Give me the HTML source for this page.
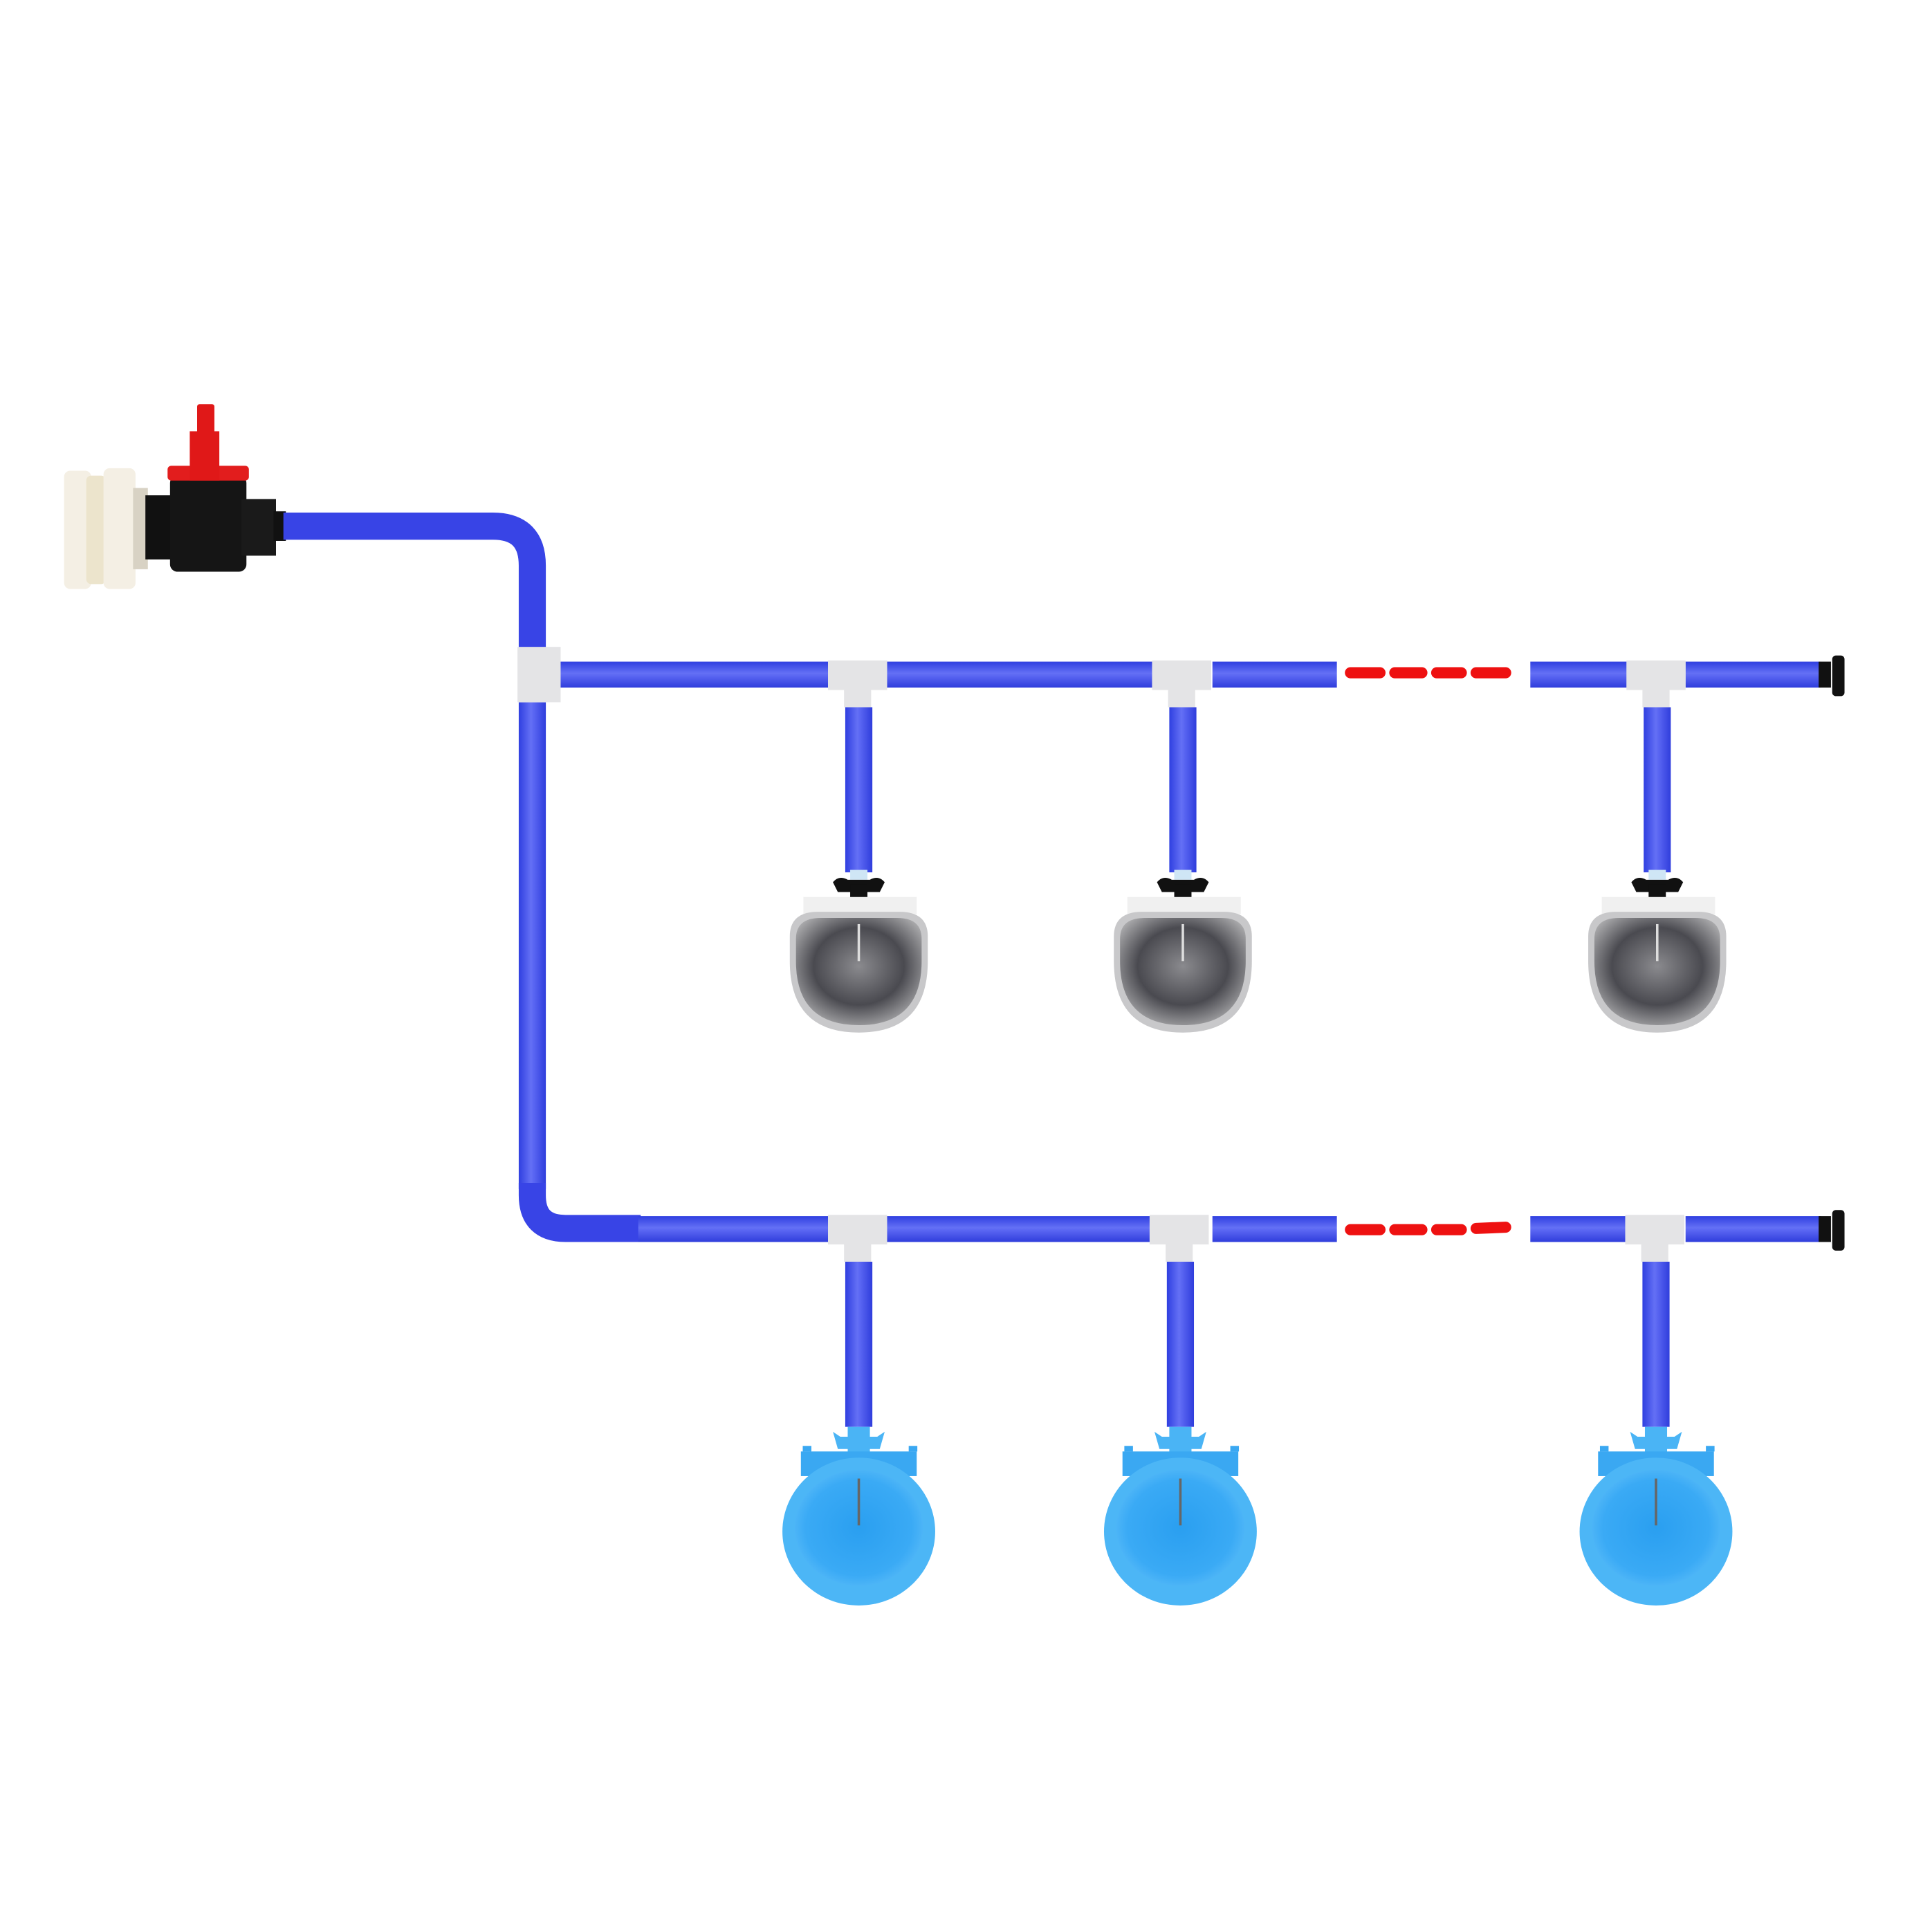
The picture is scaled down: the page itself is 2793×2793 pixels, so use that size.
<!DOCTYPE html>
<html><head><meta charset="utf-8"><style>html,body{margin:0;padding:0;background:#fff}svg{display:block}</style></head>
<body>
<svg width="2793" height="2793" viewBox="0 0 1568 1568" xmlns="http://www.w3.org/2000/svg">
<defs>
<linearGradient id="ph" x1="0" y1="0" x2="0" y2="1">
<stop offset="0" stop-color="#2f3fe0"/><stop offset="0.45" stop-color="#6470f5"/><stop offset="0.55" stop-color="#5a66f2"/><stop offset="1" stop-color="#2f3ddc"/></linearGradient>
<linearGradient id="pv" x1="0" y1="0" x2="1" y2="0">
<stop offset="0" stop-color="#2f3fe0"/><stop offset="0.45" stop-color="#6470f5"/><stop offset="0.55" stop-color="#5a66f2"/><stop offset="1" stop-color="#2f3ddc"/></linearGradient>
<radialGradient id="steel" cx="0.5" cy="0.45" r="0.6">
<stop offset="0" stop-color="#8a8a8e"/><stop offset="0.6" stop-color="#4a4a50"/><stop offset="1" stop-color="#a8a8aa"/></radialGradient>
<radialGradient id="bb" cx="0.5" cy="0.5" r="0.55">
<stop offset="0" stop-color="#2a9ff0"/><stop offset="0.75" stop-color="#3aaaf5"/><stop offset="1" stop-color="#56baf8"/></radialGradient>
</defs>

<!-- valve assembly -->
<rect x="52" y="382" width="22" height="96" rx="5" fill="#f4efe4"/>
<rect x="70" y="386" width="16" height="88" rx="4" fill="#ece4cc"/>
<rect x="84" y="380" width="26" height="98" rx="5" fill="#f4efe4"/>
<rect x="108" y="396" width="12" height="66" fill="#d8d2c4"/>
<rect x="118" y="402" width="30" height="52" fill="#111"/>
<rect x="138" y="386" width="62" height="78" rx="6" fill="#151515"/>
<rect x="196" y="405" width="28" height="46" fill="#1a1a1a"/>
<rect x="222" y="415" width="10" height="24" fill="#111"/>
<rect x="136" y="378" width="66" height="12" rx="3" fill="#e21d1d"/>
<rect x="160" y="328" width="14" height="58" rx="2" fill="#e01818"/>
<rect x="154" y="350" width="24" height="40" fill="#e01818"/>

<!-- top feed pipe with bend -->
<path d="M230 427 H400 Q432 427 432 459 V527" fill="none" stroke="#3844e6" stroke-width="22"/>
<!-- vertical main -->
<rect x="421" y="570" width="22" height="395" fill="url(#pv)"/>
<path d="M432 960 V970 Q432 997 459 997 H520" fill="none" stroke="#3844e6" stroke-width="22"/>

<!-- top tee -->
<rect x="420" y="525" width="35" height="45" fill="#e4e4e6"/>

<!-- top horizontal segments -->
<rect x="455" y="537" width="217" height="21" fill="url(#ph)"/>
<rect x="720" y="537" width="217" height="21" fill="url(#ph)"/>
<rect x="984" y="537" width="101" height="21" fill="url(#ph)"/>
<rect x="1242" y="537" width="80" height="21" fill="url(#ph)"/>
<rect x="1368" y="537" width="110" height="21" fill="url(#ph)"/>
<rect x="1476" y="537" width="10" height="21" fill="#111"/>
<rect x="1487" y="532" width="10" height="33" rx="3" fill="#111"/>
<g stroke="#ee1111" stroke-width="9" stroke-linecap="round">
<line x1="1096" y1="546" x2="1120" y2="546"/><line x1="1132" y1="546" x2="1154" y2="546"/><line x1="1166" y1="546" x2="1186" y2="546"/><line x1="1198" y1="546" x2="1222" y2="546"/></g>

<!-- bottom horizontal segments -->
<rect x="518" y="987" width="154" height="21" fill="url(#ph)"/>
<rect x="720" y="987" width="217" height="21" fill="url(#ph)"/>
<rect x="984" y="987" width="101" height="21" fill="url(#ph)"/>
<rect x="1242" y="987" width="80" height="21" fill="url(#ph)"/>
<rect x="1368" y="987" width="110" height="21" fill="url(#ph)"/>
<rect x="1476" y="987" width="10" height="21" fill="#111"/>
<rect x="1487" y="982" width="10" height="33" rx="3" fill="#111"/>
<g stroke="#ee1111" stroke-width="9" stroke-linecap="round">
<line x1="1096" y1="998" x2="1120" y2="998"/><line x1="1132" y1="998" x2="1154" y2="998"/><line x1="1166" y1="998" x2="1186" y2="998"/><line x1="1198" y1="997" x2="1222" y2="996"/></g>

<!-- top row drops + steel bowls -->
<g id="t1">
<rect x="672" y="536" width="48" height="24" fill="#e4e4e6"/>
<rect x="685" y="558" width="22" height="16" fill="#e4e4e6"/>
<rect x="686" y="574" width="22" height="134" fill="url(#pv)"/>
<rect x="690" y="706" width="14" height="8" fill="#cfe6f5"/>
<path d="M676 716 q5 -6 12 -2 h18 q7 -4 12 2 l-4 8 h-34z" fill="#111"/>
<rect x="690" y="718" width="14" height="12" fill="#111"/>
<rect x="652" y="728" width="92" height="14" fill="#f0f0f0"/>
<path d="M641 760 Q641 740 664 740 H730 Q753 740 753 760 V780 Q753 838 697 838 Q641 838 641 780Z" fill="#c8c8ca"/>
<path d="M646 762 Q646 745 666 745 H728 Q748 745 748 762 V780 Q748 832 697 832 Q646 832 646 780Z" fill="url(#steel)"/>
<line x1="697" y1="750" x2="697" y2="780" stroke="#ddd" stroke-width="2"/>
</g>
<use href="#t1" x="263"/>
<use href="#t1" x="648"/>

<!-- bottom row drops + blue bowls -->
<g id="b1">
<rect x="672" y="986" width="48" height="24" fill="#e4e4e6"/>
<rect x="685" y="1008" width="22" height="16" fill="#e4e4e6"/>
<rect x="686" y="1024" width="22" height="134" fill="url(#pv)"/>
<path d="M676 1162 l4 14 h34 l4 -14 l-6 4 h-30z" fill="#4ab4f5"/>
<rect x="688" y="1158" width="18" height="24" fill="#4ab4f5"/>
<rect x="650" y="1178" width="94" height="20" fill="#3aa8f2"/>
<path d="M652 1178 v-4 h6 v4 M738 1178 v-4 h6 v4" fill="#3aa8f2" stroke="#3aa8f2"/>
<ellipse cx="697" cy="1243" rx="62" ry="60" fill="#4cb6f6"/>
<ellipse cx="697" cy="1240" rx="52" ry="47" fill="url(#bb)"/>
<line x1="697" y1="1200" x2="697" y2="1238" stroke="#666" stroke-width="2"/>
</g>
<use href="#b1" x="261"/>
<use href="#b1" x="647"/>
</svg>
</body></html>
